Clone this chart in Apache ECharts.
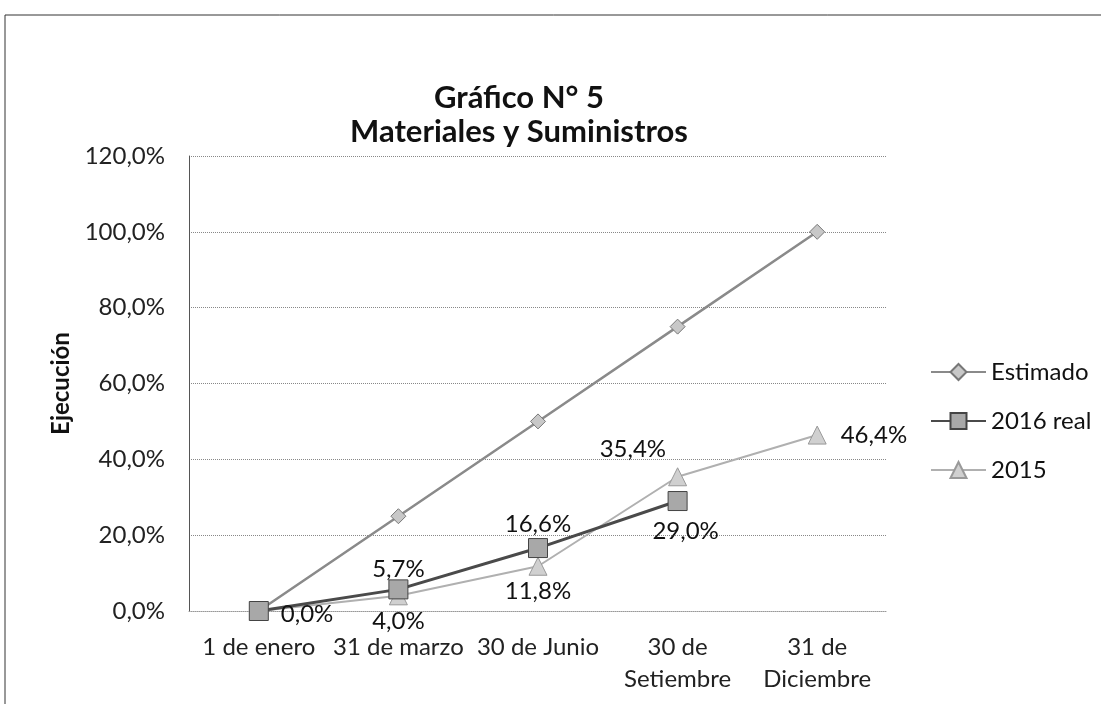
<!DOCTYPE html>
<html><head><meta charset="utf-8">
<script src="https://cdn.jsdelivr.net/npm/echarts@6/dist/echarts.min.js"></script>
<style>html,body{margin:0;padding:0;background:#fff}#c{width:1101px;height:704px}</style>
</head><body><div id="c"></div>
<script>
const categories = ['1 de enero', '31 de marzo', '30 de Junio', '30 de\nSetiembre', '31 de\nDiciembre'];
const estimado = [0, 25, 50, 75, 100];
const real2016 = [0, 5.7, 16.6, 29.0];
const y2015 = [0, 4.0, 11.8, 35.4, 46.4];
const yTicks = [0, 20, 40, 60, 80, 100, 120];

const fmt = v => v.toFixed(1).replace('.', ',') + '%';
const FONT = 'Lato, "Open Sans", sans-serif';
const realLbl = [
  { position: 'right', distance: 12, offset: [0, 3] },
  { position: 'top', distance: -2 },
  { position: 'top', distance: 2 },
  { position: 'bottom', distance: 8, offset: [8, 0] }
];
const lbl2015 = [
  { show: false },
  { show: true, position: 'bottom', distance: 4 },
  { show: true, position: 'bottom', distance: 4 },
  { show: true, position: 'left', distance: 2, offset: [0, -28] },
  { show: true, position: 'right', distance: 14 }
];

const chart = echarts.init(document.getElementById('c'));
chart.setOption({
  animation: false,
  textStyle: { fontFamily: FONT },
  title: {
    text: 'Gráfico N° 5\nMateriales y Suministros',
    left: 514, textAlign: 'center', top: 76,
    textStyle: { fontFamily: FONT, fontSize: 31, fontWeight: 'bold', color: '#111', lineHeight: 34 }
  },
  graphic: [{ type: 'rect', shape: { x: 5, y: 15, width: 1200, height: 800 }, style: { fill: 'none', stroke: '#333', lineWidth: 1 }, silent: true }],
  legend: {
    orient: 'vertical', left: 925, top: 355, itemGap: 25, itemWidth: 55, itemHeight: 20,
    textStyle: { fontFamily: FONT, fontSize: 24, color: '#111' },
    data: ['Estimado', '2016 real', '2015']
  },
  grid: { left: 189, right: 214, top: 156, bottom: 93 },
  xAxis: {
    type: 'category', data: categories, boundaryGap: true,
    axisLine: { lineStyle: { color: '#999', type: 'dotted' } },
    axisTick: { show: false },
    axisLabel: { fontFamily: FONT, fontSize: 24, color: '#222', margin: 20, lineHeight: 32, interval: 0 }
  },
  yAxis: {
    type: 'value', min: 0, max: 120, interval: 20,
    name: 'Ejecución', nameLocation: 'middle', nameGap: 116, nameRotate: 90,
    nameTextStyle: { fontFamily: FONT, fontSize: 24, fontWeight: 'bold', color: '#111' },
    axisLine: { show: true, lineStyle: { color: '#555' } },
    axisTick: { show: false },
    axisLabel: { fontFamily: FONT, fontSize: 24, color: '#222', margin: 24, formatter: v => yTicks.includes(v) ? fmt(v) : '' },
    splitLine: { lineStyle: { color: '#888', type: 'dotted' } }
  },
  series: [
    {
      name: 'Estimado', type: 'line', data: estimado,
      symbol: 'diamond', symbolSize: 15,
      lineStyle: { color: '#8a8a8a', width: 2.5 },
      itemStyle: { color: '#c8c8c8', borderColor: '#777', borderWidth: 1 },
      label: { show: false }
    },
    {
      name: '2015', type: 'line',
      data: y2015.map((v, i) => ({ value: v, label: lbl2015[i] })),
      symbol: 'triangle', symbolSize: 18,
      lineStyle: { color: '#b0b0b0', width: 2 },
      itemStyle: { color: '#d0d0d0', borderColor: '#999', borderWidth: 1 },
      label: { show: true, formatter: p => fmt(p.value), fontFamily: FONT, fontSize: 24, color: '#111' },
      z: 3
    },
    {
      name: '2016 real', type: 'line',
      data: real2016.map((v, i) => ({ value: v, label: realLbl[i] })),
      symbol: 'rect', symbolSize: 19,
      lineStyle: { color: '#4a4a4a', width: 3 },
      itemStyle: { color: '#a8a8a8', borderColor: '#444', borderWidth: 1 },
      label: { show: true, formatter: p => fmt(p.value), fontFamily: FONT, fontSize: 24, color: '#111' },
      z: 4
    }
  ]
});
</script></body></html>
